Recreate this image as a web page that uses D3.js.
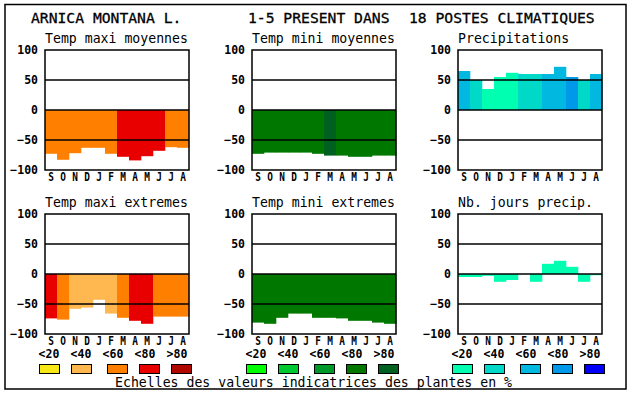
<!DOCTYPE html>
<html><head><meta charset="utf-8">
<script src="https://cdn.jsdelivr.net/npm/d3@7"></script>
<style>
html,body{margin:0;padding:0;background:#fff;}
svg{display:block;}
text{font-family:"DejaVu Sans Mono",monospace;fill:#000;}
</style></head>
<body>
<svg id="c" width="630" height="394"></svg>
<script>
// ---------- data ----------
const months = ["S","O","N","D","J","F","M","A","M","J","J","A"];
const classLabels = ["<20","<40","<60","<80",">80"];
const yTicks = [-100,-50,0,50,100];

const warmColors  = ["#F8E818","#FFB850","#FF8000","#E80000","#B00800"];
const greenColors = ["#00FF00","#00C830","#009828","#007800","#006020"];
const blueColors  = ["#00FFB0","#00D8C8","#00B8E0","#0098E8","#0000F8"];

const tmaxMoy     = [-73,-83,-72,-63,-63,-73,-78,-84,-77,-68,-62,-63];
const tmaxMoyCls  = [2,2,2,2,2,2,3,3,3,3,2,2];
const tminMoy     = [-73,-71,-71,-71,-71,-73,-76,-76,-78,-78,-76,-76];
const tminMoyCls  = [3,3,3,3,3,3,4,3,3,3,3,3];
const precip      = [65,50,35,55,62,60,60,60,72,55,50,60];
const precipCls   = [2,1,0,0,0,1,1,2,2,3,1,2];
const tmaxExt     = [-74,-76,-58,-56,-43,-66,-73,-78,-83,-71,-71,-71];
const tmaxExtCls  = [3,2,1,1,1,1,2,3,3,2,2,2];
const tminExt     = [-81,-83,-73,-66,-66,-73,-73,-74,-78,-78,-81,-83];
const tminExtCls  = [3,3,3,3,3,3,3,3,3,3,3,3];
const nbJours     = [-5,-5,-3,-13,-10,0,-13,17,22,12,-13,-2];
const nbJoursCls  = [0,0,0,0,0,0,0,0,0,0,0,0];

const titleParts = ["ARNICA MONTANA L.","1-5 PRESENT DANS","18 POSTES CLIMATIQUES"];
const footer = "Echelles des valeurs indicatrices des plantes en %";

// ---------- layout ----------
const svg = d3.select("#c");
const colX = [45, 252, 458];
const rowY = [50, 214];
const W = 144, H = 120;

svg.append("rect").attr("x",5).attr("y",4.5).attr("width",621).attr("height",384.5)
  .attr("fill","none").attr("stroke","#000").attr("stroke-width",1.5);

const titleX = [31, 248, 409];
titleParts.forEach((t,i)=>{
  svg.append("text").attr("x",titleX[i]).attr("y",23).attr("font-size","14.7px")
    .attr("stroke","#000").attr("stroke-width",0.3).text(t);
});

const panels = [
  {title:"Temp maxi moyennes", col:0,row:0, vals:tmaxMoy, cls:tmaxMoyCls, pal:warmColors},
  {title:"Temp mini moyennes", col:1,row:0, vals:tminMoy, cls:tminMoyCls, pal:greenColors},
  {title:"Precipitations",     col:2,row:0, vals:precip,  cls:precipCls,  pal:blueColors},
  {title:"Temp maxi extremes", col:0,row:1, vals:tmaxExt, cls:tmaxExtCls, pal:warmColors},
  {title:"Temp mini extremes", col:1,row:1, vals:tminExt, cls:tminExtCls, pal:greenColors},
  {title:"Nb. jours precip.",  col:2,row:1, vals:nbJours, cls:nbJoursCls, pal:blueColors}
];

panels.forEach(p=>{
  const x0 = colX[p.col], y0 = rowY[p.row];
  const x = d3.scaleBand().domain(d3.range(12)).range([x0, x0+W]).padding(0);
  const y = d3.scaleLinear().domain([-100,100]).range([y0+H, y0]);
  const g = svg.append("g");

  g.append("text").attr("x",x0).attr("y",y0-7).attr("font-size","13.2px").text(p.title);

  g.selectAll("rect.bar").data(p.vals).join("rect").attr("class","bar")
    .attr("x",(d,i)=>x(i)).attr("width",x.bandwidth()+0.3)
    .attr("y",d=>y(Math.max(0,d))).attr("height",d=>Math.abs(y(d)-y(0)))
    .attr("fill",(d,i)=>p.pal[p.cls[i]]);

  g.selectAll("line.grid").data([50,0,-50]).join("line").attr("class","grid")
    .attr("x1",x0).attr("x2",x0+W).attr("y1",d=>y(d)).attr("y2",d=>y(d))
    .attr("stroke","#000").attr("stroke-width",1.5);

  g.append("rect").attr("x",x0).attr("y",y0).attr("width",W).attr("height",H)
    .attr("fill","none").attr("stroke","#000").attr("stroke-width",1.5);

  const ya = d3.axisLeft(y).tickValues(yTicks).tickSize(0).tickPadding(7).tickFormat(d3.format("d"));
  const yg = g.append("g").attr("transform",`translate(${x0},0)`).call(ya);
  yg.select(".domain").remove();
  yg.selectAll("text").attr("font-family","DejaVu Sans Mono").attr("font-weight","bold").attr("font-size","11.5px");

  const xa = d3.axisBottom(x).tickSize(0).tickPadding(3).tickFormat(i=>months[i]);
  const xg = g.append("g").attr("transform",`translate(0,${y0+H})`).call(xa);
  xg.select(".domain").remove();
  xg.selectAll("text").attr("font-family","DejaVu Sans Mono").attr("font-weight","bold").attr("font-size","11.5px")
    .attr("transform","scale(0.82,1)");
});

// legends
const labOff = [4, 36, 68, 100, 132];
const boxOff = [-6, 26, 62, 94, 126];
const legPal = [warmColors, greenColors, blueColors];
colX.forEach((x0,c)=>{
  classLabels.forEach((l,k)=>{
    svg.append("text").attr("x",x0+labOff[k]).attr("y",358).attr("text-anchor","middle")
      .attr("font-weight","bold").attr("font-size","11.5px").text(l);
    svg.append("rect").attr("x",x0+boxOff[k]+0.5).attr("y",364.5).attr("width",20).attr("height",9)
      .attr("fill",legPal[c][k]).attr("stroke","#000").attr("stroke-width",1);
  });
});

svg.append("text").attr("x",115).attr("y",387).attr("font-size","13.2px").text(footer);
</script>
</body></html>
